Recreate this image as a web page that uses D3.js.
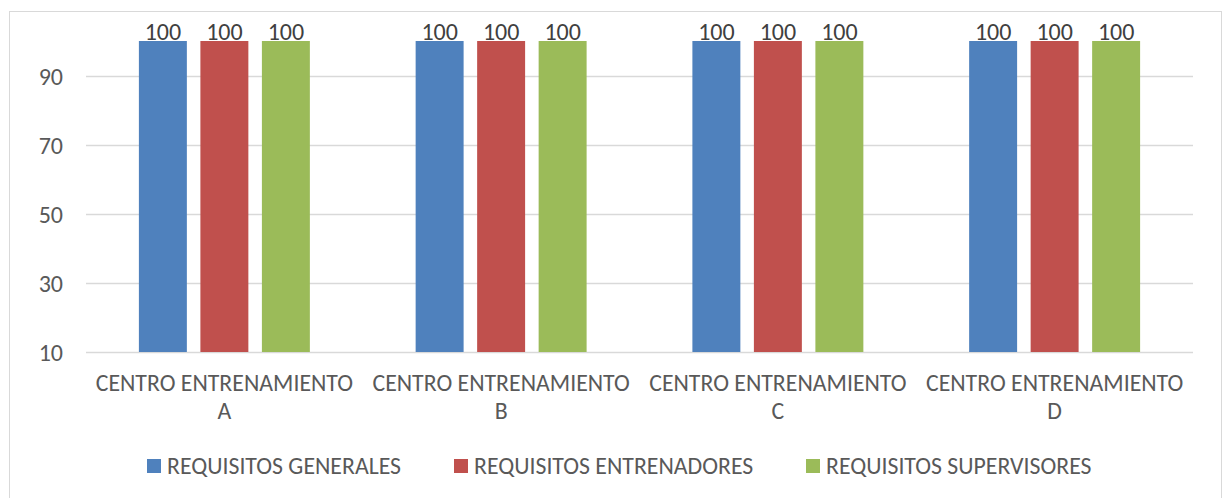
<!DOCTYPE html>
<html><head><meta charset="utf-8">
<script src="https://cdn.jsdelivr.net/npm/d3@7"></script>
<style>
html,body{margin:0;padding:0;background:#fff;}
svg{display:block;font-family:Carlito, Lato, "Open Sans", sans-serif;}
</style></head>
<body><svg id="c" width="1225" height="498"></svg>
<script>
const categories = ["CENTRO ENTRENAMIENTO A","CENTRO ENTRENAMIENTO B","CENTRO ENTRENAMIENTO C","CENTRO ENTRENAMIENTO D"];
const categoryLines = [["CENTRO ENTRENAMIENTO","A"],["CENTRO ENTRENAMIENTO","B"],["CENTRO ENTRENAMIENTO","C"],["CENTRO ENTRENAMIENTO","D"]];
const seriesNames = ["REQUISITOS GENERALES","REQUISITOS ENTRENADORES","REQUISITOS SUPERVISORES"];
const generales = [100,100,100,100];
const entrenadores = [100,100,100,100];
const supervisores = [100,100,100,100];
const yTicks = [10,30,50,70,90];
const colors = ["#4f81bd","#c0504d","#9bbb59"];

const seriesValues = [generales, entrenadores, supervisores];
const svg = d3.select("#c");
const pLeft = 86, pRight = 1193, pTop = 41, pBottom = 352;
const textColor = "#595959";

// chart border
svg.append("rect").attr("x",9.5).attr("y",11.5).attr("width",1212).attr("height",490)
  .attr("fill","none").attr("stroke","#d9d9d9").attr("stroke-width",1);

const x0 = d3.scaleBand().domain(categories).range([pLeft,pRight]).padding(0);
const x1 = d3.scaleBand().domain(seriesNames).range([0,x0.bandwidth()]).paddingInner(0.22).paddingOuter(0.86);
const y = d3.scaleLinear().domain([10,100]).range([pBottom,pTop]);

// gridlines
svg.append("g").selectAll("line").data(yTicks).join("line")
  .attr("x1",pLeft).attr("x2",pRight)
  .attr("y1",d=>Math.round(y(d))+0.5).attr("y2",d=>Math.round(y(d))+0.5)
  .attr("stroke","#d9d9d9").attr("stroke-width",1.5);

// y axis labels
const yAxis = d3.axisLeft(y).tickValues(yTicks).tickSize(0).tickPadding(0);
const ya = svg.append("g").attr("transform",`translate(63,0)`).call(yAxis);
ya.attr("font-family",null).attr("font-size",null);
ya.select(".domain").remove();
ya.selectAll("text").attr("fill",textColor).attr("font-size",24).attr("dy","0.36em");

// bars
const groups = svg.append("g").selectAll("g").data(categories).join("g")
  .attr("transform",d=>`translate(${x0(d)},0)`);
groups.selectAll("rect").data((c,i)=>seriesNames.map((s,j)=>({s,j,v:seriesValues[j][i]}))).join("rect")
  .attr("x",d=>x1(d.s)).attr("width",x1.bandwidth())
  .attr("y",d=>y(d.v)).attr("height",d=>y(10)-y(d.v))
  .attr("fill",d=>colors[d.j]);
groups.selectAll("text").data((c,i)=>seriesNames.map((s,j)=>({s,j,v:seriesValues[j][i]}))).join("text")
  .attr("x",d=>x1(d.s)+x1.bandwidth()/2).attr("y",d=>y(d.v)-1.5)
  .attr("text-anchor","middle").attr("fill","#404040").attr("font-size",24)
  .text(d=>d.v);

// x labels
const xl = svg.append("g").selectAll("text").data(categories).join("text")
  .attr("x",d=>x0(d)+x0.bandwidth()/2).attr("y",391)
  .attr("text-anchor","middle").attr("fill",textColor).attr("font-size",23.8);
xl.each(function(d,i){
  const t = d3.select(this);
  categoryLines[i].forEach((ln,k)=>{
    t.append("tspan").attr("x",x0(d)+x0.bandwidth()/2).attr("dy",k===0?0:28).text(ln);
  });
});

// legend
const legX = [147,454,806];
const lg = svg.append("g").selectAll("g").data(seriesNames).join("g")
  .attr("transform",(d,i)=>`translate(${legX[i]},459)`);
lg.append("rect").attr("width",14).attr("height",14).attr("fill",(d,i)=>colors[i]);
lg.append("text").attr("x",20).attr("y",15).attr("fill",textColor).attr("font-size",23.8).text(d=>d);
</script></body></html>
